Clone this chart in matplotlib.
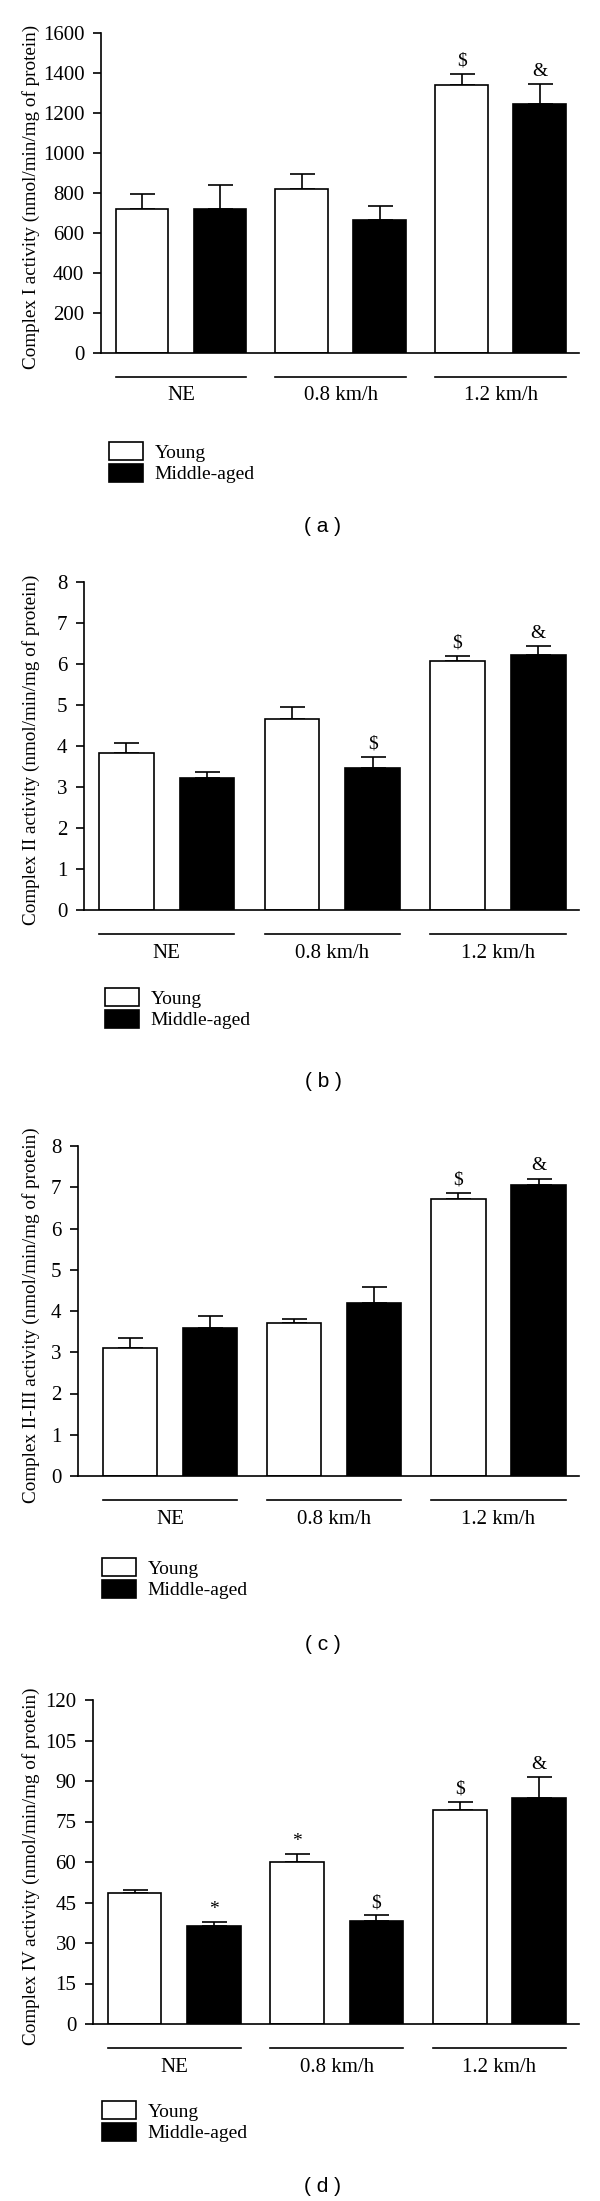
import matplotlib
matplotlib.use("Agg")
import matplotlib.pyplot as plt
import numpy as np

plt.rcParams["font.family"] = ["Liberation Serif", "DejaVu Serif"]

# Shared categories
groups = ["NE", "0.8 km/h", "1.2 km/h"]
series = ["Young", "Middle-aged"]

# (a) Complex I
c1_young = [720, 820, 1340]
c1_young_err = [75, 75, 55]
c1_middle = [720, 665, 1245]
c1_middle_err = [120, 70, 100]
c1_young_marks = ["", "", "$"]
c1_middle_marks = ["", "", "&"]
c1_ticks = [0, 200, 400, 600, 800, 1000, 1200, 1400, 1600]

# (b) Complex II
c2_young = [3.83, 4.67, 6.07]
c2_young_err = [0.24, 0.27, 0.13]
c2_middle = [3.21, 3.47, 6.23]
c2_middle_err = [0.15, 0.26, 0.20]
c2_young_marks = ["", "", "$"]
c2_middle_marks = ["", "$", "&"]
c2_ticks = [0, 1, 2, 3, 4, 5, 6, 7, 8]

# (c) Complex II-III
c3_young = [3.10, 3.70, 6.72]
c3_young_err = [0.25, 0.11, 0.14]
c3_middle = [3.60, 4.19, 7.05]
c3_middle_err = [0.27, 0.39, 0.16]
c3_young_marks = ["", "", "$"]
c3_middle_marks = ["", "", "&"]
c3_ticks = [0, 1, 2, 3, 4, 5, 6, 7, 8]

# (d) Complex IV
c4_young = [48.5, 59.9, 79.1]
c4_young_err = [1.0, 2.9, 3.3]
c4_middle = [36.2, 38.3, 83.7]
c4_middle_err = [1.6, 1.9, 7.6]
c4_young_marks = ["", "*", "$"]
c4_middle_marks = ["*", "$", "&"]
c4_ticks = [0, 15, 30, 45, 60, 75, 90, 105, 120]

W, H = 600, 2201
fig = plt.figure(figsize=(W / 100, H / 100), dpi=100)

OFF = 0.244
BW = 0.33


def draw_panel(ylabel, young, young_err, middle, middle_err, y_marks, m_marks,
               ticks, caption, left, top, zero, xmin, legend_top, legend_left,
               caption_y):
    right = 579
    ax = fig.add_axes([left / W, 1 - zero / H, (right - left) / W, (zero - top) / H])
    x = np.arange(len(groups))
    bars = []
    for xs, vals, errs, marks, fc in [
        (x - OFF, young, young_err, y_marks, "white"),
        (x + OFF, middle, middle_err, m_marks, "black"),
    ]:
        b = ax.bar(xs, vals, width=BW, color=fc, edgecolor="black", linewidth=1.2, zorder=2)
        bars.append(b)
        ax.errorbar(xs, vals, yerr=[np.zeros(len(vals)), errs], fmt="none",
                    ecolor="black", elinewidth=1.2, capsize=9, capthick=1.2, zorder=1)
        for xi, v, e, m in zip(xs, vals, errs, marks):
            if m:
                ax.annotate(m, (xi, v + e), xytext=(0, 3), textcoords="offset points",
                            ha="center", va="bottom", fontsize=14)

    ax.set_xlim(xmin, 2.49)
    ax.set_ylim(ticks[0], ticks[-1])
    ax.set_yticks(ticks)
    ax.set_xticks([])
    ax.tick_params(axis="y", direction="out", length=6, width=1.2, labelsize=15, pad=6)
    for s in ["top", "right"]:
        ax.spines[s].set_visible(False)
    for s in ["left", "bottom"]:
        ax.spines[s].set_linewidth(1.2)

    # group underlines and labels
    h_ax = zero - top
    tr = ax.get_xaxis_transform()
    for xi, g in zip(x, groups):
        ax.plot([xi - OFF - BW / 2, xi + OFF + BW / 2], [-24 / h_ax] * 2, color="black",
                lw=1.2, transform=tr, clip_on=False)
        ax.text(xi, -43 / h_ax, g, transform=tr, ha="center", va="center", fontsize=15)

    fig.text(31 / W, 1 - ((top + zero) / 2 + 4) / H, ylabel, rotation=90, ha="center",
             va="center", fontsize=13.8)

    ax.legend(bars, series, loc="upper left",
              bbox_to_anchor=(legend_left / W, 1 - legend_top / H),
              bbox_transform=fig.transFigure, frameon=False, fontsize=14,
              borderpad=0, borderaxespad=0, handlelength=1.75, handleheight=1.05,
              handletextpad=0.6, labelspacing=0.1)

    fig.text(323 / W, 1 - caption_y / H, caption, ha="center", va="center",
             fontsize=15, family=["Liberation Sans", "DejaVu Sans"])
    return ax


draw_panel("Complex I activity (nmol/min/mg of protein)", c1_young, c1_young_err,
           c1_middle, c1_middle_err, c1_young_marks, c1_middle_marks, c1_ticks,
           "( a )", left=101, top=33, zero=353, xmin=-0.5, legend_top=442,
           legend_left=109, caption_y=527)
draw_panel("Complex II activity (nmol/min/mg of protein)", c2_young, c2_young_err,
           c2_middle, c2_middle_err, c2_young_marks, c2_middle_marks, c2_ticks,
           "( b )", left=84, top=582, zero=910, xmin=-0.5, legend_top=988,
           legend_left=105, caption_y=1081)
draw_panel("Complex II-III activity (nmol/min/mg of protein)", c3_young, c3_young_err,
           c3_middle, c3_middle_err, c3_young_marks, c3_middle_marks, c3_ticks,
           "( c )", left=78, top=1146, zero=1476, xmin=-0.56, legend_top=1558,
           legend_left=102, caption_y=1644)
draw_panel("Complex IV activity (nmol/min/mg of protein)", c4_young, c4_young_err,
           c4_middle, c4_middle_err, c4_young_marks, c4_middle_marks, c4_ticks,
           "( d )", left=93, top=1700, zero=2024, xmin=-0.5, legend_top=2101,
           legend_left=102, caption_y=2187)

fig.savefig("out.png", dpi=100)
